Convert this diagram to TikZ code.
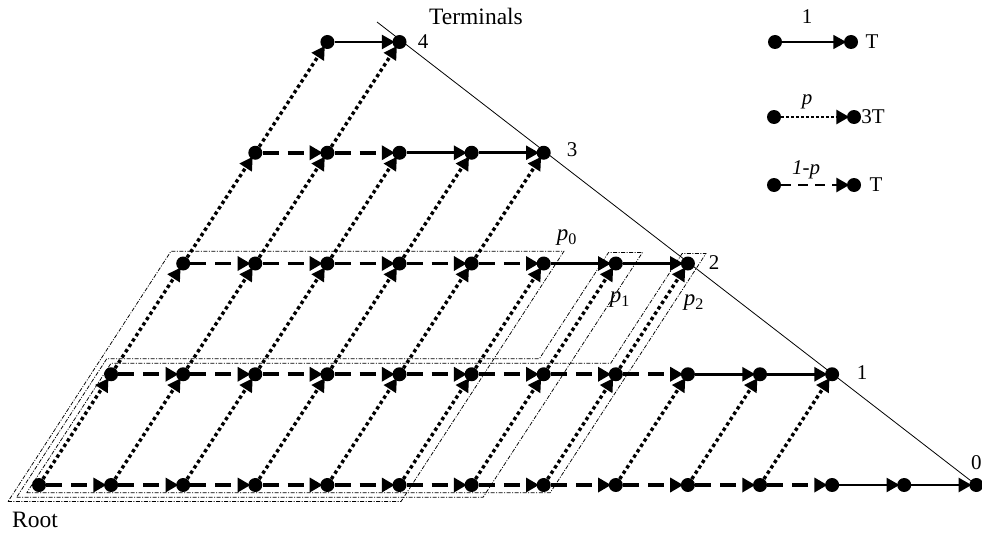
\documentclass[tikz,border=0pt]{standalone}
\usepackage{fontspec}
\setmainfont{Liberation Serif}
\usetikzlibrary{arrows.meta}
\begin{document}
\begin{tikzpicture}[x=1pt,y=-1pt,
  ball/.style={circle,fill=black,draw=none,inner sep=0pt,minimum size=14pt},
  hd/.style={-{Triangle[length=13pt,width=14pt]},shorten >=-2.5pt},
  onestep/.style={hd,line width=2.6pt},
  dashstep/.style={hd,line width=3.6pt,dash pattern=on 16pt off 9pt},
  dotstep/.style={hd,line width=3.4pt,dash pattern=on 3.4pt off 3pt},
  grp/.style={line width=0.75pt,dash pattern=on 4pt off 1.5pt on 1pt off 1.5pt},
  lbl/.style={font=\fontsize{21}{24}\selectfont,inner sep=0pt},
  plbl/.style={font=\fontsize{23}{26}\selectfont,inner sep=0pt},
  big/.style={font=\fontsize{23.5}{26}\selectfont,inner sep=0pt},
  tline/.style={line width=0.8pt},
]
\useasboundingbox (0,0) rectangle (982,535);

% grid nodes
\foreach \r/\m in {0/13,1/10,2/7,3/4,4/1}
  \foreach \j in {0,...,\m}
    \node[ball] (n\r-\j) at ({39+72.1*(\r+\j)},{485-110.75*\r}) {};

% terminal line
\coordinate (tl) at (377,22);
\draw[tline] (tl) -- (n0-13);

% groupings p0, p1, p2
\begin{scope}[shift={(39,485)},x={(72.1pt,0pt)},y={(72.1pt,110.75pt)}]
  \draw[grp] (-0.28,-0.15) -- (5.17,-0.15) -- (5.17,2.11) -- (-0.28,2.11) -- cycle;
  \draw[grp] (-0.2,-0.11) -- (6.27,-0.11) -- (6.27,2.1) -- (5.8,2.1) -- (5.8,1.14) -- (-0.2,1.14) -- cycle;
  \draw[grp] (-0.1,-0.07) -- (7.16,-0.07) -- (7.16,2.09) -- (6.83,2.09) -- (6.83,1.1) -- (-0.1,1.1) -- cycle;
\end{scope}

% horizontal edges
\foreach \r/\m in {0/13,1/10,2/7,3/4,4/1}
  \foreach \j in {1,...,\m} {
    \pgfmathtruncatemacro\i{\j-1}
    \ifnum\j>\numexpr\m-2\relax
      \draw[onestep] (n\r-\i) -- (n\r-\j);
    \else
      \draw[dashstep] (n\r-\i) -- (n\r-\j);
    \fi
  }

% slanted dotted edges
\foreach \r/\m in {0/10,1/7,2/4,3/1}
  \foreach \j in {0,...,\m} {
    \pgfmathtruncatemacro\q{\r+1}
    \draw[dotstep] (n\r-\j) -- (n\q-\j);
  }

% labels
\node[big] (terms) at (476,16) {Terminals};
\node[lbl] (t4) at (423,42) {4};
\node[lbl] (t3) at (572,150) {3};
\node[lbl] (t2) at (714,263) {2};
\node[lbl] (t1) at (862,373) {1};
\node[lbl,anchor=west] (t0) at (971,463) {0};
\node[big] (root) at (35,520) {Root};
\node[plbl] (lp0) at (567,238) {\textit{p}\textsubscript{0}};
\node[plbl] (lp1) at (620,300) {\textit{p}\textsubscript{1}};
\node[plbl] (lp2) at (694,303) {\textit{p}\textsubscript{2}};

% legend
\node[lbl] (k1) at (807,17) {1};
\node[ball] (a1) at (775,42) {};
\node[ball] (b1) at (851,42) {};
\draw[hd,line width=1.6pt] (a1) -- (b1);
\node[lbl] (c1) at (872,42) {T};

\node[lbl] (k2) at (807,102) {\textit{p}};
\node[ball] (a2) at (774,117) {};
\node[ball] (b2) at (854,117) {};
\draw[hd,line width=2.8pt,dash pattern=on 2.8pt off 2.2pt] (a2) -- (b2);
\node[lbl] (c2) at (873,117) {3T};

\node[lbl] (k3) at (806,170) {\textit{1-p}};
\node[ball] (a3) at (774,185) {};
\node[ball] (b3) at (854,185) {};
\draw[hd,line width=2.8pt,dash pattern=on 10pt off 7pt] (a3) -- (b3);
\node[lbl] (c3) at (876,185) {T};
\end{tikzpicture}
\end{document}
